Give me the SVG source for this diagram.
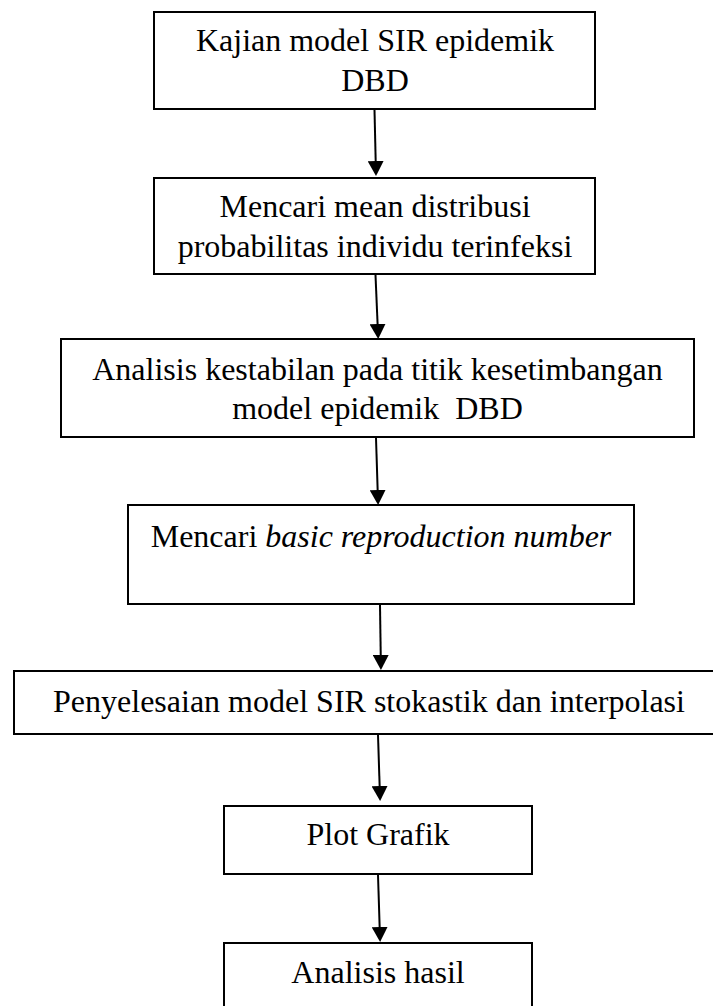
<svg xmlns="http://www.w3.org/2000/svg" width="713" height="1006" viewBox="0 0 713 1006">
<style>
.box{fill:#fff;stroke:#000;stroke-width:2}
.t{font-family:"Liberation Serif","Times New Roman",serif;font-size:32px;fill:#000;text-anchor:middle}
.c{stroke:#000;stroke-width:2;fill:none}
</style>
<defs>
<marker id="ah" viewBox="0 0 15 16" refX="5" refY="8" markerWidth="15" markerHeight="16" markerUnits="userSpaceOnUse" orient="auto">
<path d="M0,0 L15,8 L0,16 z" fill="#000"/>
</marker>
</defs>
<rect width="713" height="1006" fill="#fff"/>
<g id="connectors">
<line class="c" x1="374.5" y1="110" x2="375.8" y2="166" marker-end="url(#ah)"/>
<line class="c" x1="375.5" y1="275" x2="377.8" y2="329" marker-end="url(#ah)"/>
<line class="c" x1="376" y1="438" x2="377.8" y2="495" marker-end="url(#ah)"/>
<line class="c" x1="380" y1="605" x2="380.8" y2="660" marker-end="url(#ah)"/>
<line class="c" x1="378" y1="735" x2="379.8" y2="791" marker-end="url(#ah)"/>
<line class="c" x1="378" y1="875" x2="379.8" y2="932" marker-end="url(#ah)"/>
</g>
<g id="n1">
<rect class="box" x="154" y="12" width="441" height="97"/>
<text class="t" x="375" y="51">Kajian model SIR epidemik</text>
<text class="t" x="375" y="91">DBD</text>
</g>
<g id="n2">
<rect class="box" x="154" y="178" width="441" height="96"/>
<text class="t" x="375" y="217">Mencari mean distribusi</text>
<text class="t" x="375" y="257">probabilitas individu terinfeksi</text>
</g>
<g id="n3">
<rect class="box" x="61" y="339" width="633" height="98"/>
<text class="t" x="377.5" y="380">Analisis kestabilan pada titik kesetimbangan</text>
<text class="t" x="377.5" y="419" xml:space="preserve">model epidemik  DBD</text>
</g>
<g id="n4">
<rect class="box" x="128" y="505" width="506" height="99"/>
<text class="t" x="381" y="547" xml:space="preserve">Mencari <tspan font-style="italic">basic reproduction number</tspan></text>
</g>
<g id="n5">
<rect class="box" x="14" y="671" width="712" height="63"/>
<text class="t" x="369" y="712">Penyelesaian model SIR stokastik dan interpolasi</text>
</g>
<g id="n6">
<rect class="box" x="224" y="806" width="308" height="68"/>
<text class="t" x="378" y="845">Plot Grafik</text>
</g>
<g id="n7">
<rect class="box" x="224" y="943" width="308" height="70"/>
<text class="t" x="378" y="983">Analisis hasil</text>
</g>
</svg>
